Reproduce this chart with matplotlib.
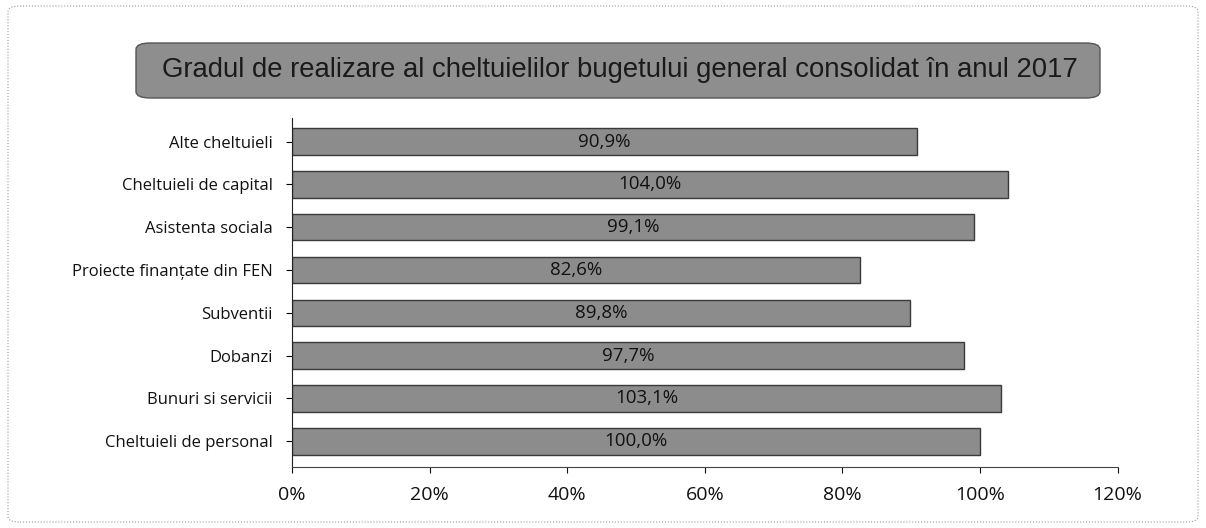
import matplotlib
matplotlib.use("Agg")
import matplotlib.pyplot as plt
from matplotlib.patches import FancyBboxPatch
from matplotlib.ticker import FuncFormatter

# ── Data ───────────────────────────────────────────────────────────────────────
categories = [
    "Alte cheltuieli",
    "Cheltuieli de capital",
    "Asistenta sociala",
    "Proiecte finanțate din FEN",
    "Subventii",
    "Dobanzi",
    "Bunuri si servicii",
    "Cheltuieli de personal",
]
values = [90.9, 104.0, 99.1, 82.6, 89.8, 97.7, 103.1, 100.0]
x_ticks = [0, 20, 40, 60, 80, 100, 120]
title = "Gradul de realizare al cheltuielilor bugetului general consolidat în anul 2017"

plt.rcParams["font.family"] = ["Open Sans", "DejaVu Sans"]

fig = plt.figure(figsize=(12.06, 5.28), dpi=100)

# outer frame (behind the axes)
fig.patches.append(FancyBboxPatch(
    (8 / 1206, 6 / 528), 1190 / 1206, 516 / 528,
    boxstyle="round,pad=0,rounding_size=0.01", transform=fig.transFigure,
    facecolor="none", edgecolor="#9a9a9a", linewidth=0.8, linestyle=":",
    zorder=-1))

# title box
fig.patches.append(FancyBboxPatch(
    (136 / 1206, 430 / 528), 964 / 1206, 55 / 528,
    boxstyle="round,pad=0,rounding_size=0.012", transform=fig.transFigure,
    facecolor="#8e8e8e", edgecolor="#555555", linewidth=1.0))
fig.text(620 / 1206, 458 / 528, title, ha="center", va="center",
         fontsize=19.8, color="#1a1a1a", family=["Liberation Sans", "DejaVu Sans"])

ax = fig.add_axes([292 / 1206, 61 / 528, 825.6 / 1206, 349 / 528])
pos = list(range(len(categories)))[::-1]
ax.barh(pos, values, height=0.62, color="#8c8c8c",
        edgecolor="#3a3a3a", linewidth=1.0)
for p, v in zip(pos, values):
    ax.text(v / 2, p, f"{v:.1f}%".replace(".", ","), ha="center", va="center",
            fontsize=13.5, color="#111111")

ax.set_xlim(0, 120)
ax.set_ylim(-0.6, len(categories) - 0.45)
ax.set_yticks(pos)
ax.set_yticklabels(categories, fontsize=12, color="#111111")
ax.set_xticks(x_ticks)
ax.xaxis.set_major_formatter(FuncFormatter(lambda v, _: f"{v:.0f}%"))
ax.tick_params(axis="x", labelsize=14, length=4, colors="#111111", pad=10)
ax.tick_params(axis="y", length=4, pad=10)
ax.spines["top"].set_visible(False)
ax.spines["right"].set_visible(False)
ax.spines["left"].set_color("#222222")
ax.spines["bottom"].set_color("#444444")
ax.spines["bottom"].set_linestyle((0, (2, 1)))
ax.set_facecolor("none")

fig.savefig("out.png", dpi=100)
plt.close(fig)
